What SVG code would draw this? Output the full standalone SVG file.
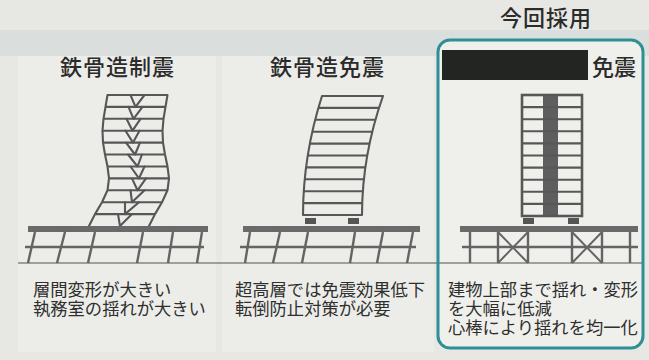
<svg xmlns="http://www.w3.org/2000/svg" width="649" height="360" viewBox="0 0 649 360">
  <style>
    .title { font-family: "Noto Sans CJK JP", "Noto Sans", sans-serif; font-size: 22px; font-weight: 500; fill: #2b2b2b; }
    .note { font-family: "Noto Sans CJK JP", "Noto Sans", sans-serif; font-size: 17.3px; fill: #2f2f2f; }
    .frame { fill: none; stroke: #575757; stroke-width: 2.1; stroke-linejoin: round; stroke-linecap: round; }
    .floor { stroke: #575757; stroke-width: 2.1; }
    .slab { fill: #6a6a6a; }
    .gl { stroke: #646464; stroke-width: 2.4; fill: none; }
    .pad { fill: #555; }
  </style>

  <!-- paper and header band -->
  <rect x="0" y="0" width="649" height="360" fill="#e7e8e4"/>
  <rect x="0" y="30" width="649" height="26" fill="#dadfde"/>
  <rect x="18" y="56" width="198" height="296" fill="#ecede9"/>
  <rect x="222" y="56" width="212" height="296" fill="#ecede9"/>
  <rect x="438" y="40" width="205" height="308" rx="12" fill="#eff0ec"/>

  <!-- ground line shared by all three columns -->
  <line x1="18" y1="263" x2="642" y2="263" stroke="#858585" stroke-width="1.5"/>

  <!-- steel frame with dampers -->
  <g id="node-damped">
    <text class="title" x="60" y="75" letter-spacing="1">鉄骨造制震</text>
    <polyline class="frame" points="107.5,95 105.5,106.9 103.5,118.8 102.5,130.7 103,142.6 105,154.5 107.5,166.5 109,178.4 107.5,190.3 102,202.2 95,214.1 89,226"/>
    <polyline class="frame" points="167.5,95 165.5,106.9 163.5,118.8 162.5,130.7 163,142.6 165,154.5 167.5,166.5 169,178.4 167.5,190.3 162,202.2 155,214.1 149,226"/>
    <g class="floor">
      <line x1="107.5" y1="95" x2="167.5" y2="95"/>
      <line x1="105.5" y1="106.9" x2="165.5" y2="106.9"/>
      <line x1="103.5" y1="118.8" x2="163.5" y2="118.8"/>
      <line x1="102.5" y1="130.7" x2="162.5" y2="130.7"/>
      <line x1="103" y1="142.6" x2="163" y2="142.6"/>
      <line x1="105" y1="154.5" x2="165" y2="154.5"/>
      <line x1="107.5" y1="166.5" x2="167.5" y2="166.5"/>
      <line x1="109" y1="178.4" x2="169" y2="178.4"/>
      <line x1="107.5" y1="190.3" x2="167.5" y2="190.3"/>
      <line x1="102" y1="202.2" x2="162" y2="202.2"/>
      <line x1="95" y1="214.1" x2="155" y2="214.1"/>
    </g>
    <!-- chevron braces -->
    <g class="frame">
      <polyline points="130.5,95 135.5,106.9 144.5,95"/>
      <polyline points="128.5,106.9 133.5,118.8 142.5,106.9"/>
      <polyline points="126.5,118.8 132.5,130.7 140.5,118.8"/>
      <polyline points="125.5,130.7 133,142.6 139.5,130.7"/>
      <polyline points="126,142.6 135,154.5 140,142.6"/>
      <polyline points="128,154.5 137.5,166.5 142,154.5"/>
      <polyline points="130.5,166.5 139,178.4 144.5,166.5"/>
      <polyline points="132,178.4 137.5,190.3 146,178.4"/>
      <polyline points="130.5,190.3 132,202.2 144.5,190.3"/>
      <polyline points="125,202.2 125,214.1 139,202.2"/>
      <polyline points="118,214.1 120,226 132,214.1"/>
    </g>
    <!-- foundation -->
    <rect class="slab" x="28" y="226" width="180" height="6"/>
    <g class="gl">
      <line x1="25" y1="247" x2="204" y2="247"/>
      <line x1="35" y1="232" x2="28" y2="263"/>
      <line x1="65" y1="232" x2="57" y2="263"/>
      <line x1="95" y1="232" x2="88" y2="263"/>
      <line x1="143" y1="232" x2="137" y2="263"/>
      <line x1="173" y1="232" x2="168" y2="263"/>
      <line x1="202" y1="232" x2="197" y2="263"/>
    </g>
    <text class="note" x="33" y="296">層間変形が大きい<tspan x="33" dy="19">執務室の揺れが大きい</tspan></text>
  </g>

  <!-- steel frame on base isolation -->
  <g id="node-isolated">
    <text class="title" x="270" y="75" letter-spacing="1">鉄骨造免震</text>
    <path class="frame" d="M303,215 Q303,155.5 322,96"/>
    <path class="frame" d="M362,215 Q362,155.5 383,96"/>
    <g class="floor">
      <line x1="322" y1="96" x2="383" y2="96"/>
      <line x1="318.4" y1="107.9" x2="379" y2="107.9"/>
      <line x1="315.2" y1="119.8" x2="375.4" y2="119.8"/>
      <line x1="312.3" y1="131.7" x2="372.3" y2="131.7"/>
      <line x1="309.8" y1="143.6" x2="369.6" y2="143.6"/>
      <line x1="307.8" y1="155.5" x2="367.3" y2="155.5"/>
      <line x1="306" y1="167.4" x2="365.4" y2="167.4"/>
      <line x1="304.7" y1="179.3" x2="363.9" y2="179.3"/>
      <line x1="303.8" y1="191.2" x2="362.8" y2="191.2"/>
      <line x1="303.2" y1="203.1" x2="362.2" y2="203.1"/>
      <line x1="303" y1="215" x2="362" y2="215"/>
    </g>
    <rect class="pad" x="305" y="218" width="11" height="6"/>
    <rect class="pad" x="348" y="218" width="11" height="6"/>
    <rect class="slab" x="243" y="226" width="177" height="6"/>
    <g class="gl">
      <line x1="240" y1="247" x2="416" y2="247"/>
      <line x1="250" y1="232" x2="245" y2="263"/>
      <line x1="280" y1="232" x2="273" y2="263"/>
      <line x1="308" y1="232" x2="302" y2="263"/>
      <line x1="355" y1="232" x2="350" y2="263"/>
      <line x1="383" y1="232" x2="377" y2="263"/>
      <line x1="413" y1="232" x2="407" y2="263"/>
    </g>
    <text class="note" x="235" y="296">超高層では免震効果低下<tspan x="235" dy="19">転倒防止対策が必要</tspan></text>
  </g>

  <!-- adopted scheme: isolated frame with stiff core -->
  <g id="node-adopted">
    <text class="title" x="500" y="26" font-size="18" letter-spacing="1">今回採用</text>
    <rect x="438" y="40" width="205" height="308" rx="12" fill="none" stroke="#2f8e96" stroke-width="3"/>
    <rect x="442" y="50" width="146" height="30" fill="#232523"/>
    <text class="title" x="592" y="75">免震</text>
    <!-- tower -->
    <rect x="543" y="95" width="15" height="121" fill="#5e5e5e"/>
    <rect x="522" y="95" width="60" height="121" fill="none" stroke="#575757" stroke-width="2.6"/>
    <g class="floor" stroke-width="2.4">
      <line x1="522" y1="107.1" x2="582" y2="107.1"/>
      <line x1="522" y1="119.2" x2="582" y2="119.2"/>
      <line x1="522" y1="131.3" x2="582" y2="131.3"/>
      <line x1="522" y1="143.4" x2="582" y2="143.4"/>
      <line x1="522" y1="155.5" x2="582" y2="155.5"/>
      <line x1="522" y1="167.6" x2="582" y2="167.6"/>
      <line x1="522" y1="179.7" x2="582" y2="179.7"/>
      <line x1="522" y1="191.8" x2="582" y2="191.8"/>
      <line x1="522" y1="203.9" x2="582" y2="203.9"/>
    </g>
    <rect class="pad" x="523" y="218" width="11" height="6"/>
    <rect class="pad" x="568" y="218" width="11" height="6"/>
    <rect class="slab" x="460" y="226" width="178" height="6"/>
    <g class="gl">
      <line x1="462" y1="247" x2="638" y2="247"/>
      <line x1="470" y1="232" x2="470" y2="263"/>
      <line x1="498" y1="232" x2="498" y2="263"/>
      <line x1="528" y1="232" x2="528" y2="263"/>
      <line x1="572" y1="232" x2="572" y2="263"/>
      <line x1="602" y1="232" x2="602" y2="263"/>
      <line x1="630" y1="232" x2="630" y2="263"/>
      <line x1="498" y1="232" x2="528" y2="263" stroke-width="2"/>
      <line x1="528" y1="232" x2="498" y2="263" stroke-width="2"/>
      <line x1="572" y1="232" x2="602" y2="263" stroke-width="2"/>
      <line x1="602" y1="232" x2="572" y2="263" stroke-width="2"/>
    </g>
    <text class="note" x="448" y="296">建物上部まで揺れ・変形<tspan x="448" dy="19">を大幅に低減</tspan><tspan x="448" dy="19">心棒により揺れを均一化</tspan></text>
  </g>
</svg>
